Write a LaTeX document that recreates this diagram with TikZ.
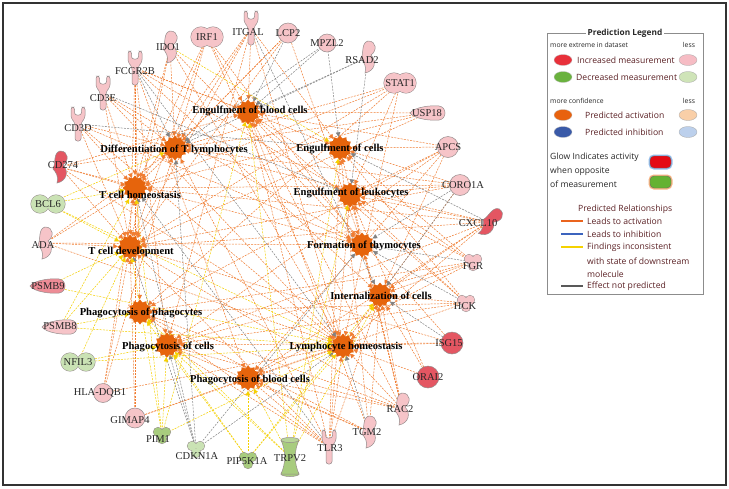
\documentclass[tikz,border=0pt]{standalone}
\usepackage{fontspec}
\setmainfont{Liberation Serif}
\newfontfamily\legfont{Open Sans}
\usetikzlibrary{shapes.geometric,arrows.meta,backgrounds}
\definecolor{pinkf}{RGB}{246,196,200}
\definecolor{redf}{RGB}{228,86,98}
\definecolor{psmnine}{RGB}{238,140,150}
\definecolor{lgreen}{RGB}{202,226,180}
\definecolor{mgreen}{RGB}{168,204,126}
\definecolor{nb}{RGB}{150,140,140}
\definecolor{orn}{RGB}{230,100,12}
\definecolor{oedgec}{RGB}{240,125,50}
\definecolor{gedgec}{RGB}{130,130,130}
\definecolor{yedgec}{RGB}{245,208,0}
\definecolor{legtxt}{RGB}{90,32,36}
\definecolor{legdark}{RGB}{40,40,40}
\definecolor{lred}{RGB}{232,48,58}
\definecolor{lpink}{RGB}{246,188,196}
\definecolor{lgrn}{RGB}{106,178,62}
\definecolor{lgrnl}{RGB}{207,228,184}
\definecolor{lorn}{RGB}{232,98,14}
\definecolor{lornl}{RGB}{249,207,168}
\definecolor{lblue}{RGB}{58,90,168}
\definecolor{lbluel}{RGB}{188,208,236}
\tikzset{
  pics/receptor/.style={code={
    \filldraw[fill=#1,draw=nb,line width=0.5pt,rounded corners=2.5pt]
      (-7,-17) -- (-7,-6) -- (-3,-1) -- (-3,17) -- (3,17) -- (3,-1) -- (7,-6) -- (7,-17)
      -- (3.5,-17) -- (3.5,-9) -- (-3.5,-9) -- (-3.5,-17) -- cycle;}},
  pics/enzyme/.style={code={
    \filldraw[fill=#1,draw=nb,line width=0.5pt]
      (0,-16) .. controls (9,-16) and (9,-6) .. (3,-2) .. controls (9,4) and (7,14) .. (-3,16)
      .. controls (-1,10) and (-4,5) .. (-7,2) .. controls (-4,-4) and (-7,-14) .. cycle;}},
  pics/kinase/.style={code={
    \draw[nb,line width=1pt] (-4,-3) circle (4.5) (4,-3) circle (4.5) (0,4) circle (4.5);
    \fill[#1] (-4,-3) circle (4.5) (4,-3) circle (4.5) (0,4) circle (4.5);}},
  pics/peanut/.style={code={
    \draw[nb,line width=1pt] (-8,0) circle (9) (8,0) circle (9);
    \fill[#1] (-8,0) circle (9) (8,0) circle (9);}},
  pics/oval/.style={code={
    \draw[nb,line width=1pt] (-6,0) circle (10) (6,0) circle (10);
    \fill[#1] (-6,0) circle (10) (6,0) circle (10);}},
  pics/pept/.style={code={
    \filldraw[fill=#1,draw=nb,line width=0.5pt]
      (-18,0) .. controls (-14,-6) and (4,-8) .. (11,-7) .. controls (19,-6) and (19,6) .. (11,7)
      .. controls (4,8) and (-14,6) .. cycle;}},
  pics/circ/.style 2 args={code={
    \filldraw[fill=#1,draw=nb,line width=0.5pt] (0,0) circle (#2);}},
  pics/chan/.style={code={
    \filldraw[fill=#1,draw=nb,line width=0.5pt] (0,17) ellipse [x radius=9,y radius=2.5];
    \filldraw[fill=#1,draw=nb,line width=0.5pt] (-9,-17) .. controls (-4,-6) and (-4,6) .. (-9,17)
      -- (9,17) .. controls (4,6) and (4,-6) .. (9,-17) -- cycle;
    \filldraw[fill=#1!80!white,draw=nb,line width=0.5pt] (0,-17) ellipse [x radius=9,y radius=2.5];}}
}
\begin{document}
\begin{tikzpicture}[x=1pt,y=-1pt,
  anc/.style={circle,minimum size=15pt,inner sep=0pt},
  fn/.style={star,star points=12,star point ratio=1.28,fill=orn,draw=none,minimum size=25pt,inner sep=0pt},
  glab/.style={font=\fontsize{10.5}{11}\selectfont,text=black!85,inner sep=0pt},
  flab/.style={font=\bfseries\fontsize{10.6}{11}\selectfont,text=black,inner sep=0pt},
  edge/.style={dash pattern=on 2pt off 1.2pt,line width=0.5pt,-{Triangle[length=4.5pt,width=4.5pt]}},
  oe/.style={edge,draw=oedgec},
  ge/.style={edge,draw=gedgec},
  ye/.style={edge,draw=yedgec},
  legt/.style={font=\legfont\fontsize{8.6}{10}\selectfont,text=legtxt,inner sep=0pt,anchor=west},
  legd/.style={font=\legfont\fontsize{8.6}{10}\selectfont,text=legdark,inner sep=0pt,anchor=west},
  legs/.style={font=\legfont\fontsize{6.8}{8}\selectfont,text=legdark,inner sep=0pt}
]
\useasboundingbox (0,0) rectangle (729,488);
% ---------- function nodes ----------
\node[fn] (EB) at (248,112) {};
\node[fn] (DT) at (175,148) {};
\node[fn] (TH) at (135,188) {};
\node[fn] (TD) at (130,247) {};
\node[fn] (PP) at (140,312) {};
\node[fn] (PC) at (167,345) {};
\node[fn] (PB) at (248,378) {};
\node[fn] (LH) at (343,346) {};
\node[fn] (IC) at (380,295) {};
\node[fn] (FT) at (362,245) {};
\node[fn] (EL) at (350,195) {};
\node[fn] (EC) at (340,148) {};
% ---------- gene anchors ----------
\node[anc] (IDO1) at (170,47) {};
\node[anc] (IRF1) at (207,37) {};
\node[anc] (ITGAL) at (251,28) {};
\node[anc] (LCP2) at (288,33) {};
\node[anc] (MPZL2) at (327,43) {};
\node[anc] (RSAD2) at (368,57) {};
\node[anc] (STAT1) at (400,83) {};
\node[anc] (USP18) at (428,113) {};
\node[anc] (APCS) at (448,147) {};
\node[anc] (CORO1A) at (460,185) {};
\node[anc] (CXCL10) at (488,222) {};
\node[anc] (FGR) at (473,262) {};
\node[anc] (HCK) at (466,303) {};
\node[anc] (ISG15) at (452,343) {};
\node[anc] (ORAI2) at (428,377) {};
\node[anc] (RAC2) at (402,409) {};
\node[anc] (TGM2) at (369,432) {};
\node[anc] (TLR3) at (329,447) {};
\node[anc] (TRPV2) at (290,457) {};
\node[anc] (PIP5K1A) at (248,459) {};
\node[anc] (CDKN1A) at (196,449) {};
\node[anc] (PIM1) at (162,435) {};
\node[anc] (GIMAP4) at (135,418) {};
\node[anc] (HLA) at (103,393) {};
\node[anc] (NFIL3) at (78,362) {};
\node[anc] (PSMB8) at (60,327) {};
\node[anc] (PSMB9) at (48,286) {};
\node[anc] (ADA) at (45,243) {};
\node[anc] (BCL6) at (48,204) {};
\node[anc] (CD274) at (60,167) {};
\node[anc] (CD3D) at (78,124) {};
\node[anc] (CD3E) at (103,93) {};
\node[anc] (FCGR2B) at (135,68) {};
% ---------- edges ----------
\begin{pgfonlayer}{background}
\fill[white] (0,0) rectangle (729,488);
\foreach \a/\b in {IDO1/DT,IDO1/TH,IDO1/TD,IDO1/LH,IDO1/FT,
  IRF1/DT,IRF1/TH,IRF1/TD,IRF1/EB,IRF1/LH,IRF1/FT,
  ITGAL/DT,ITGAL/TH,ITGAL/TD,ITGAL/EB,ITGAL/EC,ITGAL/PC,ITGAL/LH,
  LCP2/DT,LCP2/TD,LCP2/TH,LCP2/FT,
  STAT1/DT,STAT1/TH,STAT1/TD,STAT1/LH,STAT1/EL,STAT1/PP,
  USP18/TD,USP18/TH,USP18/DT,USP18/EB,
  APCS/EB,APCS/EC,APCS/EL,APCS/PC,APCS/PP,APCS/PB,APCS/IC,
  CORO1A/TD,CORO1A/TH,CORO1A/DT,CORO1A/LH,CORO1A/EC,CORO1A/EL,
  CXCL10/TD,CXCL10/TH,CXCL10/DT,CXCL10/LH,CXCL10/PB,CXCL10/PC,CXCL10/EL,CXCL10/IC,
  FGR/EB,FGR/EC,FGR/EL,FGR/PC,FGR/PP,FGR/PB,FGR/IC,
  HCK/EB,HCK/EC,HCK/EL,HCK/PC,HCK/PP,HCK/PB,HCK/IC,
  ISG15/LH,ISG15/TD,ISG15/PC,ISG15/EB,
  ORAI2/IC,ORAI2/EL,ORAI2/LH,
  RAC2/EB,RAC2/EC,RAC2/EL,RAC2/PC,RAC2/PP,RAC2/PB,RAC2/IC,RAC2/LH,RAC2/FT,RAC2/TD,
  TGM2/EB,TGM2/EC,TGM2/PC,TGM2/PP,TGM2/PB,TGM2/IC,
  TLR3/EB,TLR3/EC,TLR3/EL,TLR3/PC,TLR3/PP,TLR3/PB,TLR3/IC,TLR3/LH,TLR3/DT,TLR3/TD,
  GIMAP4/TD,GIMAP4/TH,GIMAP4/LH,GIMAP4/PB,
  HLA/TD,HLA/DT,HLA/TH,HLA/LH,
  ADA/TD,ADA/TH,ADA/DT,ADA/LH,ADA/FT,
  CD274/TD,CD274/TH,CD274/DT,CD274/LH,CD274/FT,CD274/EB,
  CD3D/TD,CD3D/TH,CD3D/DT,CD3D/LH,CD3D/FT,
  CD3E/TD,CD3E/TH,CD3E/DT,CD3E/LH,CD3E/FT,
  FCGR2B/EB,FCGR2B/EC,FCGR2B/EL,FCGR2B/PC,FCGR2B/PP,FCGR2B/PB,FCGR2B/IC,FCGR2B/TH,FCGR2B/TD}
  \draw[oe] (\a) -- (\b);
\foreach \a/\b in {ITGAL/IC,LCP2/EB,MPZL2/EB,MPZL2/DT,MPZL2/EC,RSAD2/EB,RSAD2/DT,RSAD2/EL,
  CORO1A/FT,CXCL10/EC,FGR/FT,ISG15/IC,TGM2/LH,TLR3/TH,CDKN1A/TD,CDKN1A/TH,CDKN1A/DT,
  CDKN1A/LH,CDKN1A/FT,CDKN1A/PC,CD3D/EC,CD3E/EL,FCGR2B/DT,FCGR2B/LH,HCK/FT,CORO1A/IC}
  \draw[ge] (\a) -- (\b);
\foreach \a/\b in {IDO1/EC,TRPV2/EB,TRPV2/EC,TRPV2/EL,TRPV2/PC,TRPV2/PP,TRPV2/PB,TRPV2/IC,
  PIM1/EB,PIP5K1A/PC,PIP5K1A/PP,PIP5K1A/PB,PIP5K1A/IC,PIP5K1A/LH,
  PIM1/TD,PIM1/TH,PIM1/PC,PIM1/LH,NFIL3/PC,NFIL3/TD,NFIL3/LH,
  PSMB8/TD,PSMB8/TH,PSMB8/LH,PSMB8/PP,PSMB9/TD,PSMB9/LH,
  BCL6/TH,BCL6/DT,BCL6/TD,BCL6/LH}
  \draw[ye] (\a) -- (\b);
\end{pgfonlayer}
% ---------- gene shapes ----------
\pic at (170,47) {enzyme=pinkf};
\pic at (207,37) {oval=pinkf};
\pic at (251,28) {receptor=pinkf};
\pic at (288,33) {circ={pinkf}{10}};
\pic at (327,43) {circ={pinkf}{9}};
\pic at (368,57) {enzyme=pinkf};
\pic at (400,83) {oval=pinkf};
\pic at (428,113) {pept=pinkf};
\pic at (448,147) {circ={pinkf}{10.5}};
\pic at (460,185) {circ={pinkf}{10.5}};
\pic[rotate=-35] at (490,222) {enzyme=redf};
\pic at (473,262) {kinase=pinkf};
\pic at (466,303) {kinase=pinkf};
\pic at (452,343) {circ={redf}{11}};
\pic at (428,377) {circ={redf}{11}};
\pic at (402,409) {enzyme=pinkf};
\pic at (369,432) {enzyme=pinkf};
\pic at (329,447) {receptor=pinkf};
\pic at (290,457) {chan=mgreen};
\pic at (248,460) {kinase=mgreen};
\pic at (196,449) {kinase=lgreen};
\pic at (162,435) {kinase=mgreen};
\pic at (135,418) {circ={pinkf}{10}};
\pic at (103,393) {circ={pinkf}{9.5}};
\pic at (78,362) {peanut=lgreen};
\pic at (60,327) {pept=pinkf};
\pic at (48,286) {pept=psmnine};
\pic at (45,243) {enzyme=pinkf};
\pic at (48,204) {peanut=lgreen};
\pic at (60,167) {enzyme=redf};
\pic at (78,124) {receptor=pinkf};
\pic at (103,93) {receptor=pinkf};
\pic at (135,68) {receptor=pinkf};
% ---------- gene labels ----------
\node[glab] at (168,47) {IDO1};
\node[glab] at (207,37) {IRF1};
\node[glab] at (248,32) {ITGAL};
\node[glab] at (288,33) {LCP2};
\node[glab] at (327,43) {MPZL2};
\node[glab] at (362,60) {RSAD2};
\node[glab] at (400,83) {STAT1};
\node[glab] at (427,113) {USP18};
\node[glab] at (448,147) {APCS};
\node[glab] at (463,185) {CORO1A};
\node[glab] at (478,223) {CXCL10};
\node[glab] at (473,266) {FGR};
\node[glab] at (465,306) {HCK};
\node[glab] at (449,343) {ISG15};
\node[glab] at (428,377) {ORAI2};
\node[glab] at (400,409) {RAC2};
\node[glab] at (367,432) {TGM2};
\node[glab] at (330,448) {TLR3};
\node[glab] at (290,458) {TRPV2};
\node[glab] at (247,461) {PIP5K1A};
\node[glab] at (197,456) {CDKN1A};
\node[glab] at (158,439) {PIM1};
\node[glab] at (130,420) {GIMAP4};
\node[glab] at (100,393) {HLA-DQB1};
\node[glab] at (78,362) {NFIL3};
\node[glab] at (60,326) {PSMB8};
\node[glab] at (48,286) {PSMB9};
\node[glab] at (43,245) {ADA};
\node[glab] at (48,204) {BCL6};
\node[glab] at (63,165) {CD274};
\node[glab] at (78,128) {CD3D};
\node[glab] at (103,98) {CD3E};
\node[glab] at (135,71) {FCGR2B};
% ---------- function labels ----------
\node[flab] at (250,111) {Engulfment of blood cells};
\node[flab] at (174,150) {Differentiation of T lymphocytes};
\node[flab] at (140,195) {T cell homeostasis};
\node[flab] at (131,252) {T cell development};
\node[flab] at (141,313) {Phagocytosis of phagocytes};
\node[flab] at (168,347) {Phagocytosis of cells};
\node[flab] at (250,380) {Phagocytosis of blood cells};
\node[flab] at (346,347) {Lymphocyte homeostasis};
\node[flab] at (381,296) {Internalization of cells};
\node[flab] at (364,246) {Formation of thymocytes};
\node[flab] at (351,193) {Engulfment of leukocytes};
\node[flab] at (340,149) {Engulfment of cells};
% ---------- frame ----------
\draw[line width=1.2pt,draw=black!80] (3,3) rectangle (726,485);
% ---------- legend ----------
\draw[draw=black!45,line width=0.6pt] (547,33) rectangle (703,294);
\node[fill=white,inner sep=1.5pt,font=\legfont\bfseries\fontsize{8.3}{9}\selectfont,text=legdark] (lt) at (625,33) {Prediction Legend};
\node[legs,anchor=west] (l1) at (550,45) {more extreme in dataset};
\node[legs] (l2) at (689,45) {less};
\filldraw[fill=lred,draw=black!25,line width=0.3pt] (563,60) ellipse [x radius=9,y radius=5.5];
\node[legt] (l3) at (577,60) {Increased measurement};
\filldraw[fill=lpink,draw=black!35,line width=0.3pt] (688,60) ellipse [x radius=9,y radius=5.5];
\filldraw[fill=lgrn,draw=black!25,line width=0.3pt] (563,77) ellipse [x radius=9,y radius=5.5];
\node[legt] (l4) at (576,77) {Decreased measurement};
\filldraw[fill=lgrnl,draw=black!35,line width=0.3pt] (688,77) ellipse [x radius=9,y radius=5.5];
\node[legs,anchor=west] (l5) at (550,101) {more confidence};
\node[legs] (l6) at (689,101) {less};
\filldraw[fill=lorn,draw=black!25,line width=0.3pt] (563,115) ellipse [x radius=9,y radius=5.5];
\node[legt] (l7) at (585,115) {Predicted activation};
\filldraw[fill=lornl,draw=black!35,line width=0.3pt] (688,115) ellipse [x radius=9,y radius=5.5];
\filldraw[fill=lblue,draw=black!25,line width=0.3pt] (563,132) ellipse [x radius=9,y radius=5.5];
\node[legt] (l8) at (585,132) {Predicted inhibition};
\filldraw[fill=lbluel,draw=black!35,line width=0.3pt] (688,132) ellipse [x radius=9,y radius=5.5];
\node[legd] (l9) at (550,157) {Glow Indicates activity};
\node[legd] (l10) at (550,171) {when opposite};
\node[legd] (l11) at (550,184) {of measurement};
\draw[draw={rgb,255:red,150;green,190;blue,235},line width=3pt,rounded corners=4pt] (650,156) rectangle (671,168);
\filldraw[fill={rgb,255:red,228;green,10;blue,20},draw=black!60,line width=0.4pt,rounded corners=4pt] (650,156) rectangle (671,168);
\draw[draw={rgb,255:red,246;green,180;blue,130},line width=3pt,rounded corners=4pt] (650,176) rectangle (671,188);
\filldraw[fill={rgb,255:red,100;green,178;blue,50},draw=black!60,line width=0.4pt,rounded corners=4pt] (650,176) rectangle (671,188);
\node[legt] (l12) at (578,209) {Predicted Relationships};
\draw[line width=1.6pt,draw={rgb,255:red,234;green,100;blue,30}] (561,221) -- (583,221);
\node[legt] (l13) at (587,221) {Leads to activation};
\draw[line width=1.6pt,draw={rgb,255:red,60;green,100;blue,190}] (561,234) -- (583,234);
\node[legt] (l14) at (587,234) {Leads to inhibition};
\draw[line width=1.6pt,draw={rgb,255:red,245;green,210;blue,0}] (561,247) -- (583,247);
\node[legt] (l15) at (587,247) {Findings inconsistent};
\node[legt] (l16) at (587,261) {with state of downstream};
\node[legt] (l17) at (587,274) {molecule};
\draw[line width=1.6pt,draw=black!65] (561,286) -- (583,286);
\node[legt] (l18) at (587,286) {Effect not predicted};
\end{tikzpicture}
\end{document}
